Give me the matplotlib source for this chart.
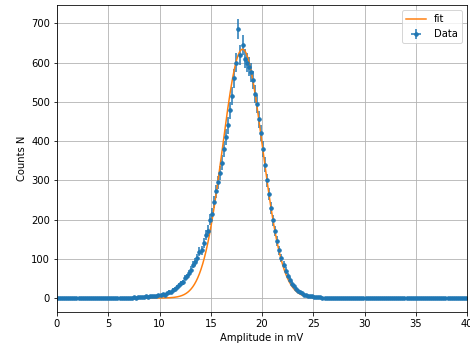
import numpy as np
import matplotlib
matplotlib.use("Agg")
import matplotlib.pyplot as plt

# histogram binning (mV)
bin_width = 0.2
bin_edges = np.arange(0, 40 + bin_width / 2, bin_width)
centers = bin_edges[:-1] + bin_width / 2

# counts for the bins from 6.0 to 28.0 mV, zero elsewhere
counts_left_zero = [0] * 30
counts_peak = [
    0, 1, 0, 1, 0, 1, 1, 2, 1, 2,
    2, 3, 2, 4, 3, 5, 4, 6, 5, 8,
    7, 10, 9, 13, 16, 15, 21, 24, 27, 33,
    38, 40, 52, 55, 64, 72, 85, 92, 101, 118,
    122, 140, 160, 172, 200, 215, 245, 272, 295, 318,
    345, 380, 410, 440, 478, 515, 560, 600, 685, 620,
    645, 610, 600, 590, 575, 555, 520, 495, 455, 420,
    380, 340, 300, 265, 230, 198, 170, 145, 122, 102,
    85, 70, 57, 46, 37, 30, 24, 19, 15, 12,
    9, 7, 6, 5, 4, 3, 3, 2, 2, 1,
    1, 1, 1, 0, 1, 0, 1, 0, 0, 0,
]
counts_right_zero = [0] * (200 - 30 - len(counts_peak))
counts = np.array(counts_left_zero + counts_peak + counts_right_zero, dtype=float)

# gaussian fit parameters (amplitude, mean, sigma)
fit_amp = 634.0
fit_mu = 18.1
fit_sigma = 1.95


def gauss(x, a, mu, sigma):
    return a * np.exp(-(x - mu) ** 2 / (2 * sigma ** 2))


fig = plt.figure(figsize=(470 / 72, 349 / 72), dpi=72)
fig.subplots_adjust(left=57 / 470, right=467 / 470, top=1 - 5 / 349, bottom=1 - 312 / 349)

plt.errorbar(centers, counts, yerr=np.sqrt(counts), xerr=bin_width / 2,
             fmt='o', markersize=3.5, label='Data')
x_fit = np.linspace(0, 40, 1000)
plt.plot(x_fit, gauss(x_fit, fit_amp, fit_mu, fit_sigma), label='fit')

plt.xlim(0, 40)
plt.xlabel("Amplitude in mV")
plt.ylabel("Counts N")
plt.grid(True)
plt.legend(loc='upper right')

plt.savefig("out.png", dpi=72)
